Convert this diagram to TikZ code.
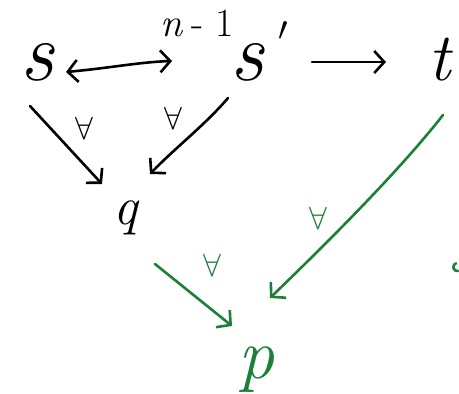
\documentclass[tikz,border=0pt]{standalone}
\usepackage{fontspec}
\usetikzlibrary{arrows.meta}
\definecolor{hgreen}{RGB}{28,128,56}
\tikzset{
  tip/.tip={Straight Barb[length=10pt,width=22pt,line width=2.6pt]},
  obj/.style={inner sep=0pt, anchor=base},
  mk/.style={inner sep=0pt},
  harr/.style={line width=2.6pt, line cap=round, -tip},
  hline/.style={line width=2.6pt, line cap=round}
}
\begin{document}
\begin{tikzpicture}[x=1pt,y=-1pt]
\useasboundingbox (0,0) rectangle (459,394);
\node[obj, font=\fontsize{84}{84}\selectfont\itshape] (s) at (37,80) {s};
\node[obj, font=\fontsize{84}{84}\selectfont\itshape] (sp) at (259,80) {s\hspace{14pt}\raisebox{40pt}{\normalsize\scalebox{3.4}{$\prime$}}};
\node[obj, font=\fontsize{68}{68}\selectfont\itshape] (t) at (440,80) {t};
\node[obj, font=\fontsize{54}{54}\selectfont\itshape] (q) at (126,224) {q};
\node[obj, font=\fontsize{72}{72}\selectfont\itshape, text=hgreen] (p) at (256,378) {p};
\node[obj, font=\fontsize{40}{40}\selectfont] (n) at (197,36) {\textit{n}\hspace{8pt}-\hspace{12pt}1};
% black arrows
\draw[harr, tip-tip] (66,72) coordinate (a1) .. controls (110,68) and (140,62) .. (172,61) coordinate (a2);
\draw[harr] (312,62) coordinate (b1) -- (386,62) coordinate (b2);
\draw[harr] (30,106) coordinate (c1) -- (102,184) coordinate (c2);
\draw[harr] (228,98) coordinate (d1) .. controls (205,125) and (175,148) .. (150,174) coordinate (d2);
% labels
\node[mk] (l1) at (84,128) {\scalebox{3.2}{$\forall$}};
\node[mk] (l2) at (173,118) {\scalebox{3.2}{$\forall$}};
% green arrows
\draw[harr, hgreen] (155,264) coordinate (e1) -- (232,326) coordinate (e2);
\draw[harr, hgreen] (443,115) coordinate (f1) .. controls (400,170) and (330,240) .. (270,298) coordinate (f2);
\node[mk, text=hgreen] (l3) at (318,218) {\scalebox{3.2}{$\forall$}};
\node[mk, text=hgreen] (l4) at (212,265) {\scalebox{3.2}{$\forall$}};
\draw[hline, hgreen] (458,271) arc (80:250:4) coordinate (g1);
\end{tikzpicture}
\end{document}
